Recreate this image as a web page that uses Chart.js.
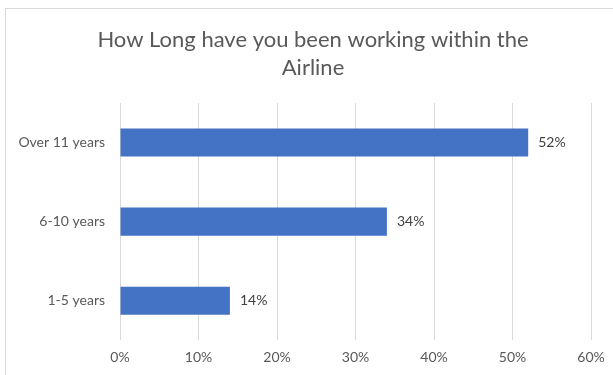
<!DOCTYPE html>
<html>
<head>
<meta charset="utf-8">
<script src="https://cdn.jsdelivr.net/npm/chart.js@4"></script>
<style>
  body { margin: 0; background: #fff; }
  /* light frame around the chart, it runs off the right and bottom edge */
  #frame { position: absolute; left: 5px; top: 8px; width: 700px; height: 400px; border: 1px solid #d9d9d9; }
  #chart { position: absolute; left: 0; top: 0; }
</style>
</head>
<body>
<div id="frame"></div>
<canvas id="chart" width="613" height="375"></canvas>
<script>
//categories top to bottom, values in percent
const categories = ['Over 11 years', '6-10 years', '1-5 years'];
const shares = [52, 34, 14];
const xTicks = [0, 10, 20, 30, 40, 50, 60];

const FONT = 'Lato, "Open Sans", sans-serif';

//write the value at the end of every bar
const barLabels = {
  id: 'barLabels',
  afterDatasetsDraw(chart) {
    const ctx = chart.ctx;
    const meta = chart.getDatasetMeta(0);
    ctx.save();
    ctx.font = '14px ' + FONT;
    ctx.fillStyle = '#404040';
    ctx.textAlign = 'left';
    ctx.textBaseline = 'middle';
    meta.data.forEach((bar, i) => {
      ctx.fillText(shares[i] + '%', bar.x + 10, bar.y);
    });
    ctx.restore();
  }
};

new Chart(document.getElementById('chart'), {
  type: 'bar',
  data: {
    labels: categories,
    datasets: [{
      data: shares,
      backgroundColor: '#4472C4',
      barPercentage: 0.5,
      categoryPercentage: 0.71
    }]
  },
  options: {
    indexAxis: 'y',
    responsive: false,
    animation: false,
    //left padding pushes the title centre to the right like the original
    layout: { padding: { left: 13, right: 0, top: 0, bottom: 0 } },
    plugins: {
      legend: { display: false },
      tooltip: { enabled: false },
      title: {
        display: true,
        text: ['How Long have you been working within the', 'Airline'],
        color: '#595959',
        font: { family: FONT, size: 22, weight: 'normal', lineHeight: 1.273 },
        padding: { top: 26, bottom: 21 }
      }
    },
    scales: {
      x: {
        min: 0,
        max: 60,
        afterBuildTicks: (scale) => { scale.ticks = xTicks.map(v => ({ value: v })); },
        afterFit: (scale) => { scale.paddingRight = 22; },
        grid: { color: '#d9d9d9', drawTicks: false },
        border: { display: false },
        ticks: {
          padding: 9,
          color: '#595959',
          font: { family: FONT, size: 14 },
          callback: (v) => v + '%'
        }
      },
      y: {
        afterFit: (scale) => { scale.width = 107; },
        grid: { display: false, drawTicks: false },
        border: { display: false },
        ticks: {
          padding: 15,
          color: '#595959',
          font: { family: FONT, size: 14 }
        }
      }
    }
  },
  plugins: [barLabels]
});
</script>
</body>
</html>
